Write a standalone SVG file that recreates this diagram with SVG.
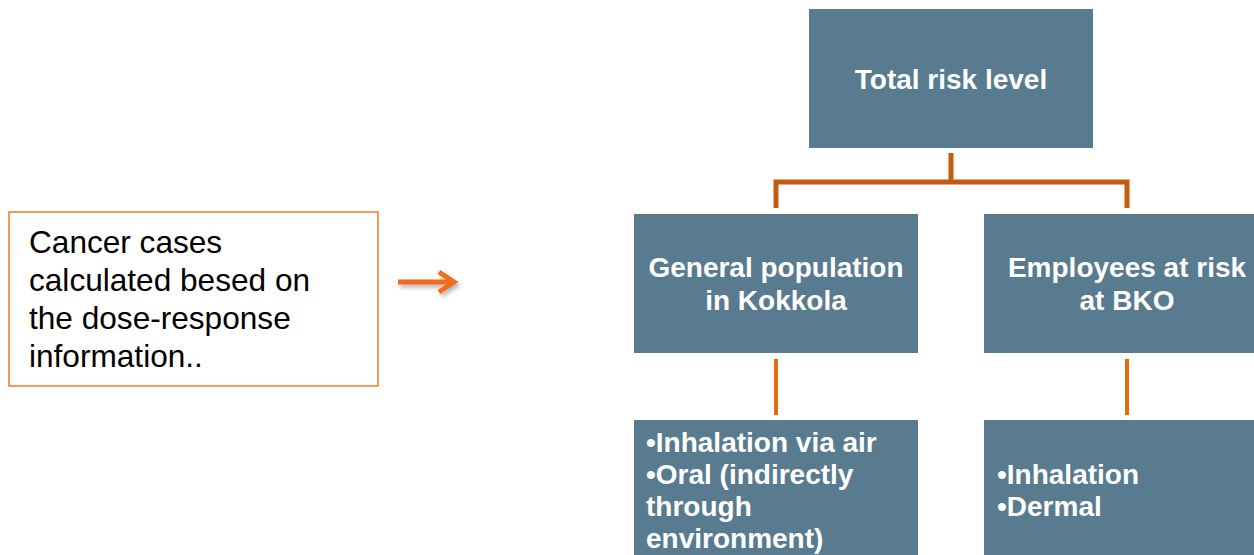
<svg xmlns="http://www.w3.org/2000/svg" width="1254" height="555" viewBox="0 0 1254 555">
<style>
.box{fill:#587B8F;}
.t{font-family:"Liberation Sans",Arial,sans-serif;font-weight:bold;font-size:28px;fill:#FFFFFF;}
.c{text-anchor:middle;}
.note{font-family:"Liberation Sans",Arial,sans-serif;font-size:31.6px;fill:#000000;}
.top{stroke:#C55A11;stroke-width:5;fill:none;}
.low{stroke:#E46C0A;stroke-width:4;fill:none;}
</style>
<defs>
<filter id="sh" x="-20%" y="-50%" width="140%" height="200%">
<feDropShadow dx="2" dy="3" stdDeviation="2" flood-color="#000" flood-opacity="0.3"/>
</filter>
</defs>
<g id="note">
<rect x="9" y="212" width="369" height="174" fill="#FFFFFF" stroke="#F47A20" stroke-width="1.5"/>
<text class="note" x="29" y="253">Cancer cases</text>
<text class="note" x="29" y="291">calculated besed on</text>
<text class="note" x="29" y="329">the dose-response</text>
<text class="note" x="29" y="367">information..</text>
</g>
<g id="arrow" filter="url(#sh)">
<line x1="398" y1="282" x2="452" y2="282" stroke="#F26B1D" stroke-width="5"/>
<path d="M439 272 L454 282 L439 292" fill="none" stroke="#F26B1D" stroke-width="5" stroke-linejoin="miter"/>
</g>
<g id="connectors">
<path class="top" d="M951 153 V182 M776 208 V182 H1127 V208"/>
<line class="low" x1="776" y1="359" x2="776" y2="415"/>
<line class="low" x1="1127" y1="359" x2="1127" y2="415"/>
</g>
<g id="total">
<rect class="box" x="809" y="9" width="284" height="139"/>
<text class="t c" x="951" y="89">Total risk level</text>
</g>
<g id="general">
<rect class="box" x="634" y="214" width="284" height="139"/>
<text class="t c" x="776" y="277">General population</text>
<text class="t c" x="776" y="310">in Kokkola</text>
</g>
<g id="employees">
<rect class="box" x="984" y="214" width="285" height="139"/>
<text class="t c" x="1127" y="277">Employees at risk</text>
<text class="t c" x="1127" y="310">at BKO</text>
</g>
<g id="general-routes">
<rect class="box" x="634" y="420" width="284" height="140"/>
<text class="t" x="646" y="452">•Inhalation via air</text>
<text class="t" x="646" y="484">•Oral (indirectly</text>
<text class="t" x="646" y="516">through</text>
<text class="t" x="646" y="548">environment)</text>
</g>
<g id="employee-routes">
<rect class="box" x="984" y="420" width="285" height="140"/>
<text class="t" x="997" y="484">•Inhalation</text>
<text class="t" x="997" y="516">•Dermal</text>
</g>
</svg>
